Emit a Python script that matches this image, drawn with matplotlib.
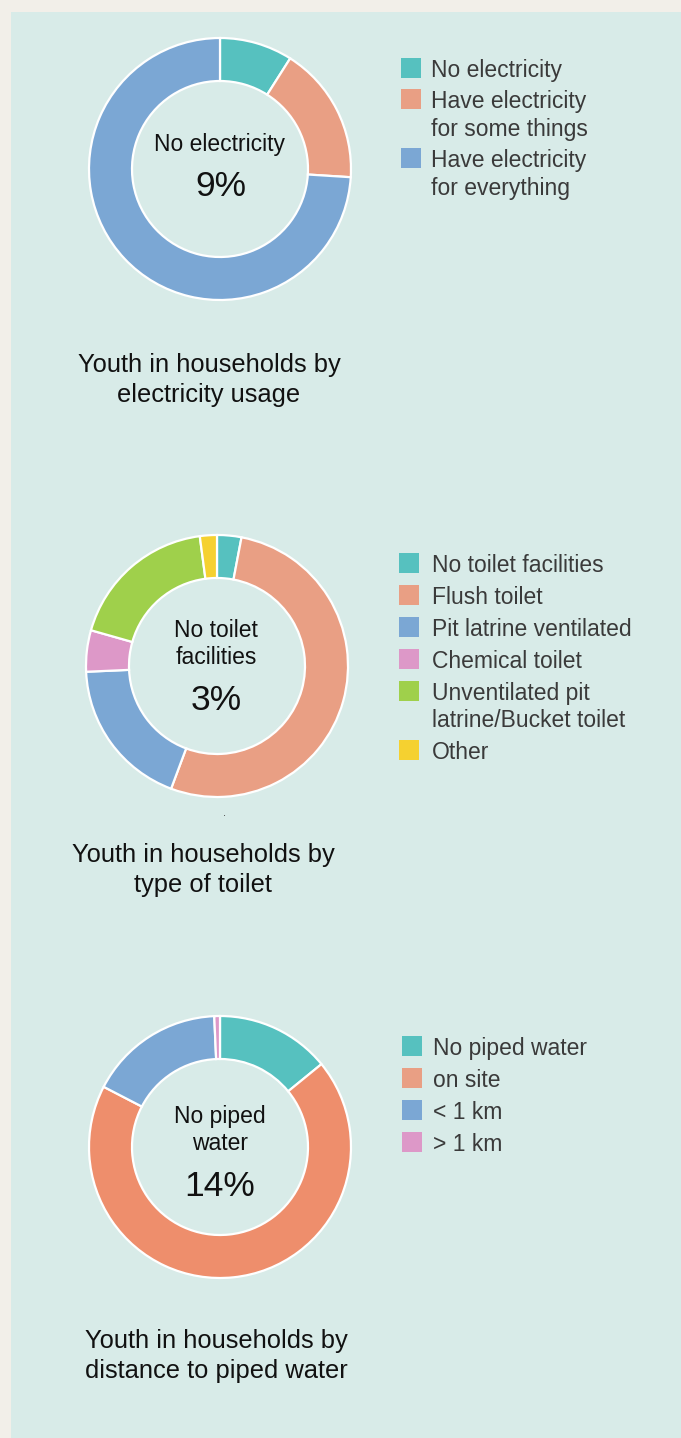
import matplotlib
matplotlib.use('Agg')
import matplotlib.pyplot as plt
from matplotlib.patches import Rectangle

plt.rcParams['font.family'] = ['Liberation Sans', 'DejaVu Sans']

W, H = 681, 1438

# --- data ---
elec_labels = ['No electricity', 'Have electricity\nfor some things', 'Have electricity\nfor everything']
elec_values = [9, 17, 74]
elec_colors = ['#56c1bf', '#e99f84', '#7ba7d4']

toilet_labels = ['No toilet facilities', 'Flush toilet', 'Pit latrine ventilated',
                 'Chemical toilet', 'Unventilated pit\nlatrine/Bucket toilet', 'Other']
toilet_values = [3, 52.7, 18.6, 5.1, 18.5, 2.1]
toilet_colors = ['#56c1bf', '#e99f84', '#7ba7d4', '#dd98c8', '#9fd04b', '#f5d130']

water_labels = ['No piped water', 'on site', '< 1 km', '> 1 km']
water_values = [14.1, 68.5, 16.7, 0.7]
water_colors = ['#56c1bf', '#ee8e6c', '#7ba7d4', '#dd98c8']
water_legend_colors = ['#56c1bf', '#e99f84', '#7ba7d4', '#dd98c8']

LEG_FS = 16.5
CEN_FS = 16.5
PCT_FS = 25.5
TTL_FS = 18.4

fig = plt.figure(figsize=(W / 100, H / 100), dpi=100)
fig.patch.set_facecolor('#f2efe9')
fig.patches.append(Rectangle((11 / W, 0), 1, 1 - 12 / H, transform=fig.transFigure,
                             facecolor='#d8ebe8', edgecolor='none', zorder=-5))


def fx(x):
    return x / W


def fy(y):
    return 1 - y / H


def donut(cx, cy, values, colors, r=131, inner=88):
    ax = fig.add_axes([fx(cx - r - 3), fy(cy + r + 3), (2 * r + 6) / W, (2 * r + 6) / H])
    ax.set_zorder(2)
    ax.pie(values, colors=colors, startangle=90, counterclock=False, radius=r / (r + 3),
           wedgeprops=dict(width=(r - inner) / (r + 3), edgecolor='white', linewidth=1.6))
    ax.set_xlim(-1, 1)
    ax.set_ylim(-1, 1)
    ax.set_aspect('equal')
    ax.axis('off')
    return ax


def legend(x, tx, y0, labels, colors, step=32, line=28):
    y = y0
    for lab, col in zip(labels, colors):
        fig.patches.append(Rectangle((fx(x), fy(y + 10)), 20 / W, 20 / H, transform=fig.transFigure,
                                     facecolor=col, edgecolor='none', zorder=1))
        for i, part in enumerate(lab.split('\n')):
            fig.text(fx(tx), fy(y + i * line), part, fontsize=LEG_FS, color='#3a3a3a',
                     va='center_baseline', ha='left', zorder=3)
        y += step + (lab.count('\n')) * line


def center(cx, y, txt):
    fig.text(fx(cx), fy(y), txt, fontsize=CEN_FS, ha='center', va='center', color='#111111',
             linespacing=1.22, zorder=3)


def pct(cx, y, txt):
    fig.text(fx(cx), fy(y), txt, fontsize=PCT_FS, ha='center', va='center', color='#111111', zorder=3)


def title(x, y, txt):
    fig.text(fx(x), fy(y), txt, fontsize=TTL_FS, color='#111111', ha='center', va='center',
             linespacing=1.28, zorder=3)


# chart 1
donut(220, 169, elec_values, elec_colors)
center(220, 144, 'No electricity')
pct(221, 187, '9%')
legend(401, 431, 68, elec_labels, elec_colors, step=31)
title(209, 380, 'Youth in households by\nelectricity usage')

# chart 2
donut(217, 666, toilet_values, toilet_colors)
center(216, 644, 'No toilet\nfacilities')
pct(216, 700, '3%')
legend(399, 432, 563, toilet_labels, toilet_colors, step=32, line=27)
fig.text(fx(224), fy(813), '.', fontsize=8, ha='center', va='center', color='#333333')
title(203, 870, 'Youth in households by\ntype of toilet')

# chart 3
donut(220, 1147, water_values, water_colors)
center(220, 1130, 'No piped\nwater')
pct(220, 1186, '14%')
legend(402, 433, 1046, water_labels, water_legend_colors, step=32)
title(216, 1356, 'Youth in households by\ndistance to piped water')

fig.savefig('out.png', dpi=100, facecolor=fig.get_facecolor())
